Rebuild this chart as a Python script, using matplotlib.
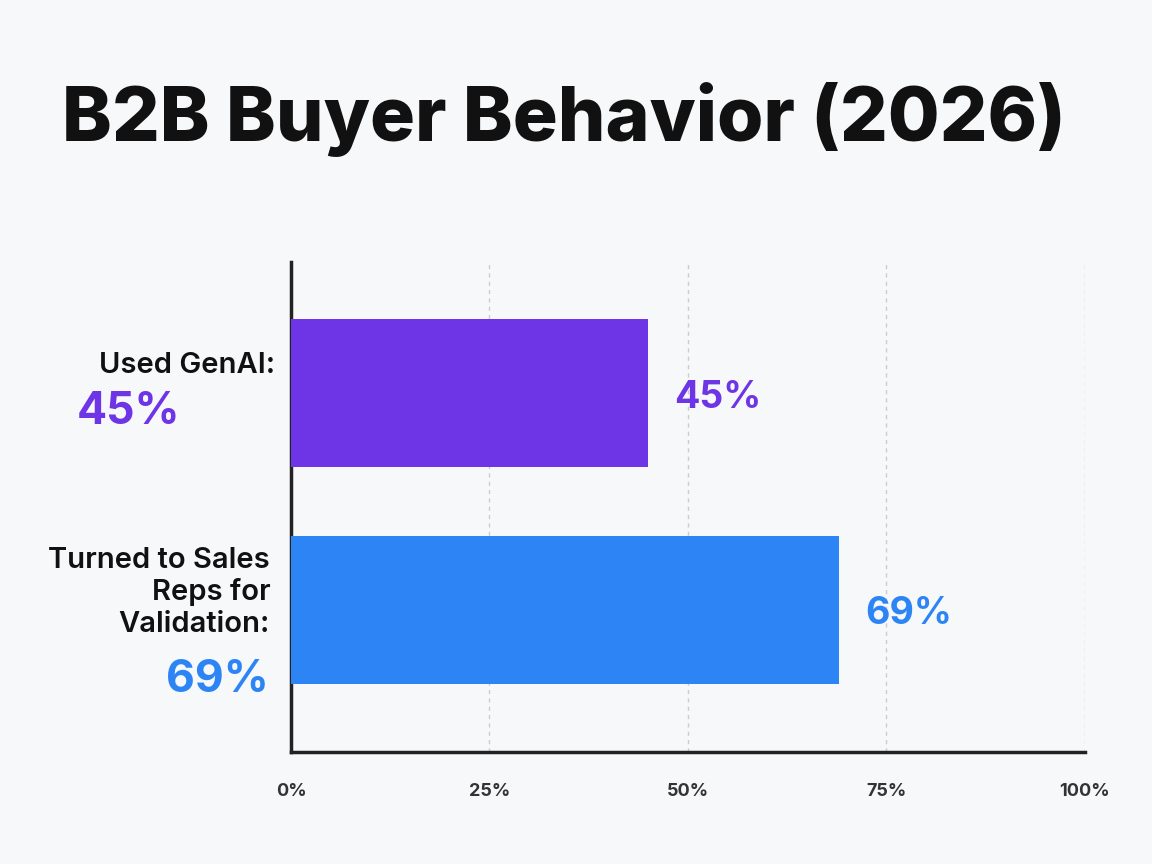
import matplotlib.pyplot as plt

categories = ['Used GenAI:', 'Turned to Sales\nReps for\nValidation:']
values = [45, 69]
colors = ['#6D35E6', '#2D85F5']
ticks = [0, 25, 50, 75, 100]
tick_labels = ['0%', '25%', '50%', '75%', '100%']

plt.rcParams['font.family'] = ['Inter', 'DejaVu Sans']
bg = '#F7F8FA'
fig = plt.figure(figsize=(11.52, 8.64), dpi=100, facecolor=bg)
ax = fig.add_axes([0.2526, 0.1296, 0.689, 0.567], facecolor=bg)

pos = list(range(len(values)))
ax.barh(pos, values, height=0.68, color=colors, zorder=3)
ax.set_ylim(1.654, -0.604)
ax.set_xlim(0, 100)

for p, v, c in zip(pos, values, colors):
    ax.text(v + 3.3, p + 0.02, f'{v}%', color=c, fontsize=27, fontweight='bold', va='center', ha='left')

# left-side labels with value
fig.text(0.2387, 0.5775, categories[0], ha='right', va='center',
         fontsize=21, fontweight='semibold', color='#111111')
fig.text(0.0668, 0.523, f'{values[0]}%', ha='left', va='center',
         fontsize=32, fontweight='bold', color=colors[0])
fig.text(0.2345, 0.367, categories[1], ha='right', va='top',
         fontsize=21, fontweight='semibold', color='#111111', linespacing=1.2)
fig.text(0.2330, 0.213, f'{values[1]}%', ha='right', va='center',
         fontsize=32, fontweight='bold', color=colors[1])

ax.set_xticks(ticks)
ax.set_xticklabels(tick_labels, fontsize=13, fontweight='bold', color='#333333')
ax.tick_params(axis='x', length=0, pad=22)
ax.set_yticks([])
ax.grid(axis='x', linestyle=(0, (3, 3)), color='#CCCCCC', linewidth=1, zorder=0)
for s in ['top', 'right']:
    ax.spines[s].set_visible(False)
for s in ['left', 'bottom']:
    ax.spines[s].set_linewidth(2.5)
    ax.spines[s].set_color('#222222')

fig.text(0.054, 0.862, 'B2B Buyer Behavior (2026)', fontsize=54, fontweight='heavy',
         color='#111111', va='center', ha='left')

fig.savefig('out.png', dpi=100, facecolor=bg)
